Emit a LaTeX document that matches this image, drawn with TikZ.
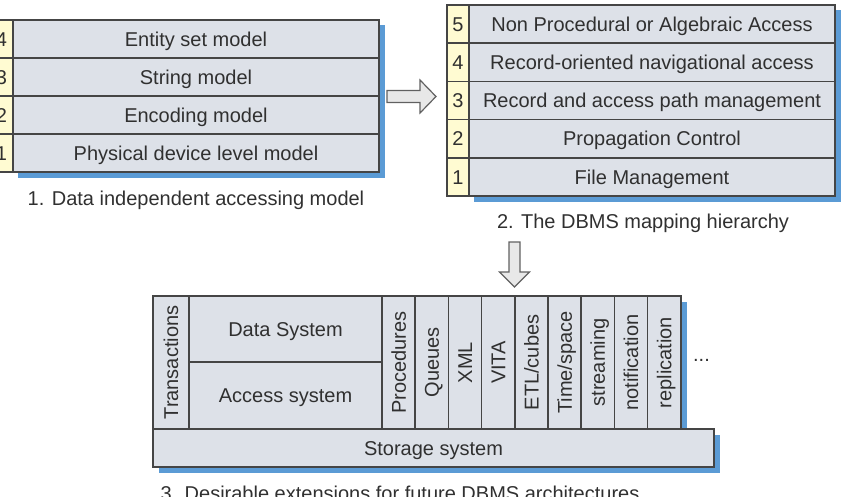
\documentclass[tikz,border=0pt]{standalone}
\usepackage{fontspec}
\setmainfont{Liberation Sans}
\definecolor{cellfill}{HTML}{DDE1E8}
\definecolor{numfill}{HTML}{FFFBD2}
\definecolor{shadowc}{HTML}{5B9BD5}
\definecolor{edgec}{HTML}{454545}
\definecolor{arrowfill}{HTML}{E8E8E8}
\definecolor{textc}{HTML}{303030}
\begin{document}
\begin{tikzpicture}[x=1pt,y=-1pt,
  cell/.style={draw=edgec, fill=cellfill, line width=1.6pt, inner sep=0pt, outer sep=0pt, rectangle},
  numcell/.style={cell, fill=numfill},
  txt/.style={font=\fontsize{20}{23}\selectfont, text=textc, inner sep=0pt, text height=14.3pt, text depth=0pt},
  captxt/.style={font=\fontsize{20}{23}\selectfont, text=textc, inner sep=0pt},
  shadowbox/.style={fill=shadowc, draw=none},
  blockarrow/.style={draw=edgec!85, fill=arrowfill, line width=1.2pt, line join=miter}]
\useasboundingbox (0,0) rectangle (846,496);
\clip (0,0) rectangle (846,496);

% ---------- Panel 1 ----------
\fill[shadowbox] (18,25) rectangle (384.5,177.5);
\foreach \i/\t [count=\k from 0] in {4/Entity set model,3/String model,2/Encoding model,1/Physical device level model}{
  \node[numcell, minimum width=23pt, minimum height=38pt] (p1n\i) at (1.5,39+38*\k) {};
  \node[txt] (p1nt\i) at (p1n\i.center) {\i};
  \node[cell, minimum width=366pt, minimum height=38pt] (p1c\i) at (196,39+38*\k) {};
  \node[txt] (p1ct\i) at (p1c\i.center) {\t};
}
\node[captxt, anchor=base] (cap1) at (196,205) {1. Data independent accessing model};

% ---------- Panel 2 ----------
\fill[shadowbox] (474,10) rectangle (840.5,201.5);
\foreach \i/\t [count=\k from 0] in {5/Non Procedural or Algebraic Access,4/Record-oriented navigational access,3/Record and access path management,2/Propagation Control,1/File Management}{
  \node[numcell, minimum width=22.5pt, minimum height=38.2pt] (p2n\i) at (458,24.1+38.2*\k) {};
  \node[txt] (p2nt\i) at (p2n\i.center) {\i};
  \node[cell, minimum width=366pt, minimum height=38.2pt] (p2c\i) at (652,24.1+38.2*\k) {};
  \node[txt] (p2ct\i) at (p2c\i.center) {\t};
}
\node[captxt, anchor=base] (cap2) at (643,228.3) {2. The DBMS mapping hierarchy};

% ---------- Arrows ----------
\draw[blockarrow] (387,90.5) -- (420,90.5) -- (420,80) -- (436,96.5) -- (420,113) -- (420,102.5) -- (387,102.5) -- cycle;
\draw[blockarrow] (509,242) -- (520,242) -- (520,272) -- (529.5,272) -- (514.5,287) -- (499.5,272) -- (509,272) -- cycle;

% ---------- Panel 3 ----------
\fill[shadowbox] (159,302) rectangle (687,432);
\fill[shadowbox] (159,435) rectangle (720,472.5);
\node[cell, minimum width=36pt, minimum height=133pt] (tr) at (171,362.5) {};
\node[txt, rotate=90] (trt) at (tr.center) {Transactions};
\node[cell, minimum width=193pt, minimum height=66pt] (ds) at (285.5,329) {};
\node[txt] (dst) at (ds.center) {Data System};
\node[cell, minimum width=193pt, minimum height=67pt] (as) at (285.5,395.5) {};
\node[txt] (ast) at (as.center) {Access system};
\foreach \t [count=\k from 0] in {Procedures,Queues,XML,VITA,ETL/cubes,Time/space,streaming,notification,replication}{
  \node[cell, minimum width=33.2pt, minimum height=133pt] (col\k) at (398.6+33.2*\k,362.5) {};
  \node[txt, rotate=90] (colt\k) at (col\k.center) {\t};
}
\node[captxt, anchor=base] (dots) at (701.5,361.5) {...};
\node[cell, minimum width=561pt, minimum height=38pt] (st) at (433.5,448) {};
\node[txt] (stt) at (st.center) {Storage system};
\node[captxt, anchor=base] (cap3) at (400,500) {3. Desirable extensions for future DBMS architectures};
\end{tikzpicture}
\end{document}
